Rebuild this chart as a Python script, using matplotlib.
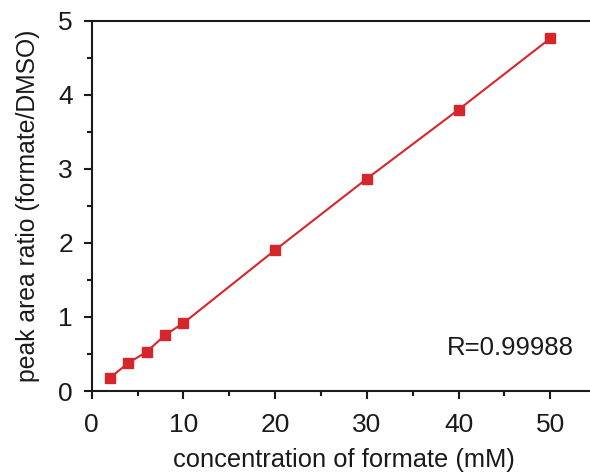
import matplotlib
matplotlib.use("Agg")
import matplotlib.pyplot as plt
from matplotlib.ticker import MultipleLocator

plt.rcParams['font.family'] = ['Liberation Sans', 'DejaVu Sans']

# Calibration data
concentration_mM = [2, 4, 6, 8, 10, 20, 30, 40, 50]
peak_area_ratio = [0.18, 0.38, 0.53, 0.756, 0.918, 1.904, 2.867, 3.80, 4.762]
r_label = "R=0.99988"
x_ticks = [0, 10, 20, 30, 40, 50]
y_ticks = [0, 1, 2, 3, 4, 5]

red = '#d7262b'
ink = '#1a1a1a'

fig = plt.figure(figsize=(5.9, 4.75), dpi=100)
ax = fig.add_axes([0.1555, 0.1768, 0.855, 0.7796])

ax.plot(concentration_mM, peak_area_ratio, color=red, lw=1.5,
        marker='s', markersize=7, markerfacecolor=red, markeredgecolor=red)

ax.set_xlim(0, 55)
ax.set_ylim(0, 5)
ax.set_xticks(x_ticks)
ax.set_yticks(y_ticks)
ax.xaxis.set_minor_locator(MultipleLocator(5))
ax.yaxis.set_minor_locator(MultipleLocator(0.5))

for s in ax.spines.values():
    s.set_linewidth(1.5)
    s.set_color(ink)
ax.spines['right'].set_visible(False)

ax.tick_params(which='major', direction='out', length=6, width=1.5,
               labelsize=19, color=ink, labelcolor=ink)
ax.tick_params(axis='x', which='major', pad=10)
ax.tick_params(axis='y', which='major', pad=7.5)
ax.tick_params(which='minor', direction='out', length=3.5, width=1.5,
               color=ink)

ax.set_xlabel("concentration of formate (mM)", fontsize=18.4, color=ink, labelpad=8)
ax.set_ylabel("peak area ratio (formate/DMSO)", fontsize=17.8, color=ink, labelpad=13)

ax.text(0.83, 0.116, r_label, transform=ax.transAxes, fontsize=18.5,
        color=ink, ha='center', va='center')

fig.savefig("out.png", dpi=100)
